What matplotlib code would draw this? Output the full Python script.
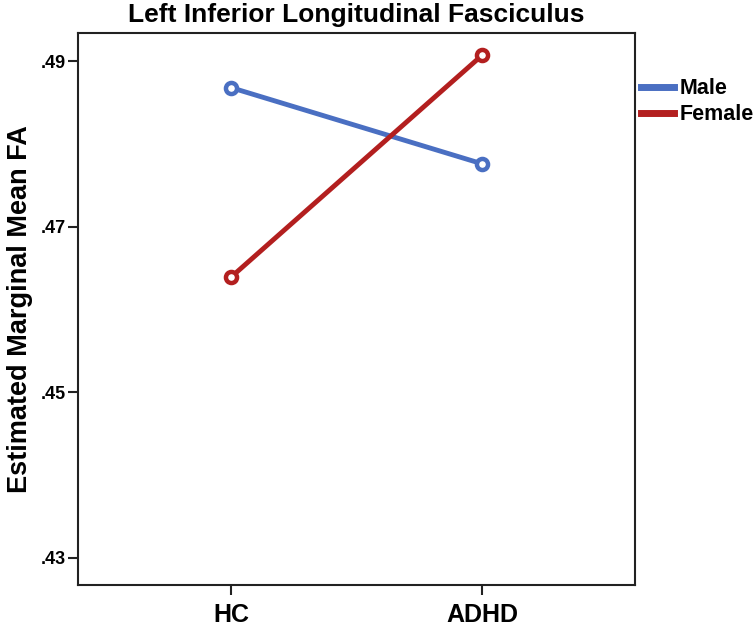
import matplotlib
matplotlib.use("Agg")
import matplotlib.pyplot as plt
from matplotlib.lines import Line2D

plt.rcParams['font.family'] = ['Liberation Sans', 'DejaVu Sans']

groups = ["HC", "ADHD"]
male_fa = [0.4868, 0.4776]
female_fa = [0.4639, 0.4907]
y_ticks = [0.43, 0.45, 0.47, 0.49]
y_tick_labels = [".43", ".45", ".47", ".49"]

blue = "#4a6fc2"
red = "#b31f1f"

fig = plt.figure(figsize=(7.56, 6.32), dpi=100)
ax = fig.add_axes([78/756, 1 - 585/632, 557/756, 552/632])

x = list(range(len(groups)))
ax.plot(x, male_fa, color=blue, lw=3.5, marker="o", ms=8,
        mfc="white", mec=blue, mew=3.2)
ax.plot(x, female_fa, color=red, lw=3.5, marker="o", ms=8,
        mfc="white", mec=red, mew=3.2)

ax.set_xlim(-0.61, 1.61)
ax.set_ylim(0.4267, 0.4934)
ax.set_xticks(x)
ax.set_xticklabels(groups, fontsize=18, fontweight="bold")
ax.set_yticks(y_ticks)
ax.set_yticklabels(y_tick_labels, fontsize=13, fontweight="bold")
ax.tick_params(axis="both", length=7, width=1.5, color="#222222")
ax.tick_params(axis="x", pad=6)
ax.tick_params(axis="y", pad=2)
for s in ax.spines.values():
    s.set_linewidth(1.5)
    s.set_color("#222222")

ax.set_ylabel("Estimated Marginal Mean FA", fontsize=19.5, fontweight="bold", labelpad=5)
ax.set_title("Left Inferior Longitudinal Fasciculus", fontsize=19, fontweight="bold", pad=8)

handles = [Line2D([], [], color=blue, lw=5), Line2D([], [], color=red, lw=5)]
ax.legend(handles, ["Male", "Female"], loc="upper left", bbox_to_anchor=(1.0, 0.93),
          frameon=False, prop={"weight": "bold", "size": 15.5}, handlelength=1.5,
          handletextpad=0.25, labelspacing=0.25, borderpad=0, borderaxespad=0.3)

fig.savefig("out.png", dpi=100)
